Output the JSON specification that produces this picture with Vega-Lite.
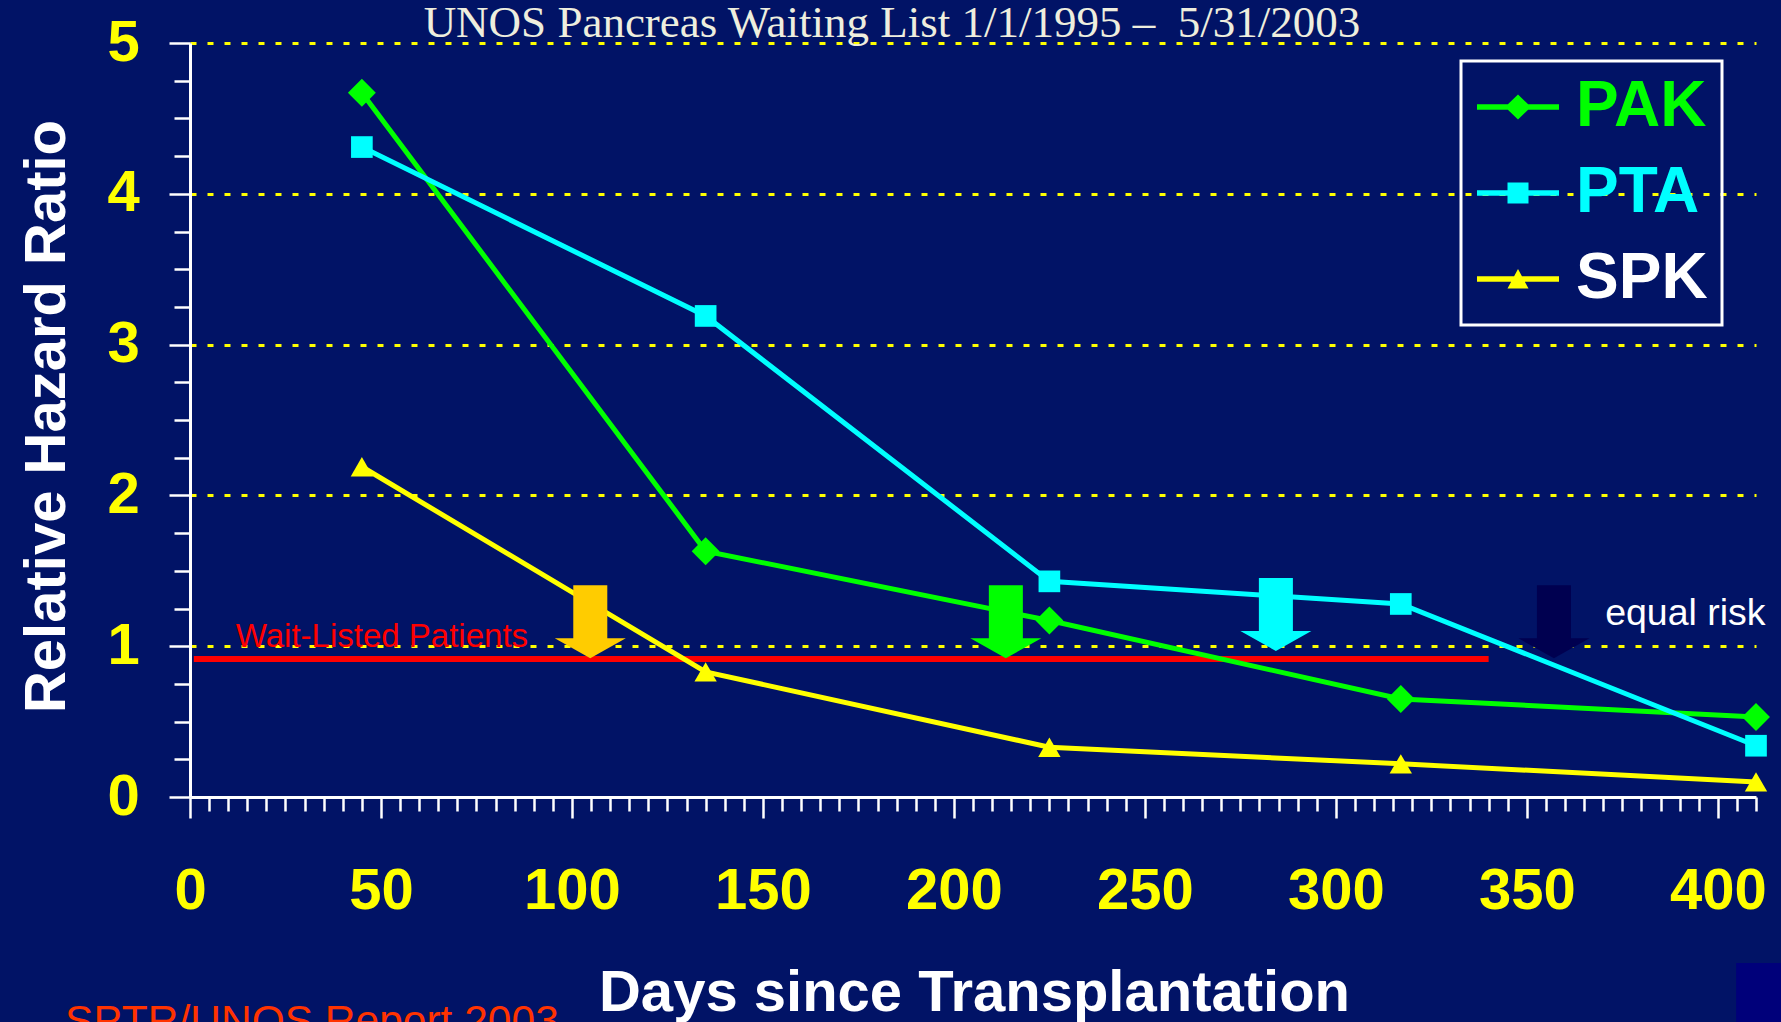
{
  "$schema": "https://vega.github.io/schema/vega-lite/v6.json",
  "width": 1566,
  "height": 754,
  "autosize": {"type": "none"},
  "padding": {"left": 190, "top": 43, "right": 25, "bottom": 225},
  "background": "#011366",
  "config": {
    "view": {"stroke": null},
    "legend": {"strokeWidth": 3}
  },
  "title": {
    "text": "UNOS Pancreas Waiting List 1/1/1995 – \u00a05/31/2003",
    "font": "Liberation Serif",
    "fontSize": 45,
    "fontWeight": "normal",
    "color": "#EEEEDE",
    "anchor": "middle",
    "frame": "group",
    "dx": -81,
    "baseline": "alphabetic",
    "offset": 0,
    "dy": 68
  },
  "datasets": {
    "series": [
      {"day": 45, "hr": 4.67, "series": "PAK"},
      {"day": 135, "hr": 1.63, "series": "PAK"},
      {"day": 225, "hr": 1.17, "series": "PAK"},
      {"day": 317, "hr": 0.65, "series": "PAK"},
      {"day": 410, "hr": 0.53, "series": "PAK"},
      {"day": 45, "hr": 4.31, "series": "PTA"},
      {"day": 135, "hr": 3.19, "series": "PTA"},
      {"day": 225, "hr": 1.43, "series": "PTA"},
      {"day": 317, "hr": 1.28, "series": "PTA"},
      {"day": 410, "hr": 0.34, "series": "PTA"},
      {"day": 45, "hr": 2.19, "series": "SPK"},
      {"day": 135, "hr": 0.83, "series": "SPK"},
      {"day": 225, "hr": 0.33, "series": "SPK"},
      {"day": 317, "hr": 0.22, "series": "SPK"},
      {"day": 410, "hr": 0.1, "series": "SPK"}
    ],
    "arrows": [
      {"day": 104.8, "hr": 0.92, "arrow": "SPK"},
      {"day": 213.6, "hr": 0.92, "arrow": "PAK"},
      {"day": 284.3, "hr": 0.968, "arrow": "PTA"},
      {"day": 357.1, "hr": 0.92, "arrow": "equal"}
    ]
  },
  "encoding": {
    "x": {
      "field": "day",
      "type": "quantitative",
      "scale": {"domain": [0, 410], "nice": false, "zero": false},
      "axis": {
        "title": "Days since Transplantation",
        "values": [0,5,10,15,20,25,30,35,40,45,50,55,60,65,70,75,80,85,90,95,100,105,110,115,120,125,130,135,140,145,150,155,160,165,170,175,180,185,190,195,200,205,210,215,220,225,230,235,240,245,250,255,260,265,270,275,280,285,290,295,300,305,310,315,320,325,330,335,340,345,350,355,360,365,370,375,380,385,390,395,400,405,410],
        "labelExpr": "datum.value % 50 === 0 ? '' + datum.value : ''",
        "labelOverlap": false,
        "labelFlush": false,
        "labelFont": "Liberation Sans",
        "labelFontSize": 58,
        "labelFontWeight": "bold",
        "labelColor": "#ffff00",
        "labelPadding": 44.7,
        "tickSize": {"condition": {"test": "datum.value % 50 === 0", "value": 21}, "value": 14},
        "tickColor": "#ffffff",
        "tickWidth": 2.5,
        "domainColor": "#ffffff",
        "domainWidth": 3,
        "grid": false,
        "titleFont": "Liberation Sans",
        "titleFontSize": 58,
        "titleFontWeight": "bold",
        "titleColor": "#ffffff",
        "titleBaseline": "alphabetic",
        "titleAlign": "center",
        "titleX": 784,
        "titleY": 213
      }
    },
    "y": {
      "field": "hr",
      "type": "quantitative",
      "scale": {"domain": [0, 5], "nice": false, "zero": false},
      "axis": {
        "title": "Relative Hazard Ratio",
        "values": [0,0.25,0.5,0.75,1,1.25,1.5,1.75,2,2.25,2.5,2.75,3,3.25,3.5,3.75,4,4.25,4.5,4.75,5],
        "labelExpr": "datum.value % 1 === 0 ? '' + datum.value : ''",
        "labelOverlap": false,
        "labelFlush": false,
        "labelFont": "Liberation Sans",
        "labelFontSize": 58,
        "labelFontWeight": "bold",
        "labelColor": "#ffff00",
        "labelPadding": 29.8,
        "tickSize": {"condition": {"test": "datum.value % 1 === 0", "value": 21}, "value": 16},
        "tickColor": "#ffffff",
        "tickWidth": 2.5,
        "domainColor": "#ffffff",
        "domainWidth": 3,
        "grid": true,
        "gridColor": "#ffff00",
        "gridDash": [6, 11],
        "gridWidth": 3,
        "gridOpacity": {"condition": {"test": "datum.value % 1 === 0 && datum.value > 0", "value": 1}, "value": 0},
        "titleFont": "Liberation Sans",
        "titleFontSize": 58,
        "titleFontWeight": "bold",
        "titleColor": "#ffffff",
        "titleAngle": -90,
        "titleBaseline": "alphabetic",
        "titleAlign": "center",
        "titleX": -126,
        "titleY": 373
      }
    }
  },
  "layer": [
    {
      "data": {"values": [{"day": 1, "day2": 340, "hr": 0.915}]},
      "mark": {"type": "rule", "color": "#ff0000", "strokeWidth": 6},
      "encoding": {"x2": {"field": "day2"}}
    },
    {
      "data": {"name": "series"},
      "transform": [{"filter": "datum.series === 'PAK'"}],
      "mark": {"type": "line", "strokeWidth": 5, "color": "#00ff00"}
    },
    {
      "data": {"name": "series"},
      "transform": [{"filter": "datum.series === 'PTA'"}],
      "mark": {"type": "line", "strokeWidth": 5, "color": "#00ffff"}
    },
    {
      "data": {"name": "series"},
      "transform": [{"filter": "datum.series === 'SPK'"}],
      "mark": {"type": "line", "strokeWidth": 5, "color": "#ffff00"}
    },
    {
      "data": {"name": "series"},
      "transform": [{"filter": "datum.series === 'PAK'"}],
      "mark": {"type": "point", "shape": "diamond", "filled": true, "size": 780, "color": "#00ff00", "opacity": 1}
    },
    {
      "data": {"name": "series"},
      "transform": [{"filter": "datum.series === 'PTA'"}],
      "mark": {"type": "point", "shape": "square", "filled": true, "size": 470, "color": "#00ffff", "opacity": 1}
    },
    {
      "data": {"name": "series"},
      "transform": [{"filter": "datum.series === 'SPK'"}],
      "mark": {"type": "point", "shape": "triangle-up", "filled": true, "size": 500, "color": "#ffff00", "opacity": 1}
    },
    {
      "data": {"name": "arrows"},
      "mark": {
        "type": "point",
        "shape": "M-0.466,-2L0.466,-2L0.466,-0.548L0.973,-0.548L0,0L-0.973,-0.548L-0.466,-0.548Z",
        "size": 5329,
        "filled": true,
        "opacity": 1
      },
      "encoding": {
        "color": {
          "field": "arrow",
          "type": "nominal",
          "scale": {"domain": ["SPK", "PAK", "PTA", "equal"], "range": ["#ffcc00", "#00ff00", "#00ffff", "#000050"]},
          "legend": null
        }
      }
    },
    {
      "data": {"values": [{"day": 12, "hr": 0.995, "note": "Wait-Listed Patients"}]},
      "mark": {"type": "text", "align": "left", "baseline": "alphabetic", "font": "Liberation Sans", "fontSize": 33, "color": "#ff0000"},
      "encoding": {"text": {"field": "note"}}
    },
    {
      "data": {"values": [{"day": 370.5, "hr": 1.14, "note": "equal risk"}]},
      "mark": {"type": "text", "align": "left", "baseline": "alphabetic", "font": "Liberation Sans", "fontSize": 37.5, "color": "#ffffff"},
      "encoding": {"text": {"field": "note"}}
    },
    {
      "data": {"values": [{"day": -32.7, "hr": -1.581, "note": "SPTR/UNOS Report 2003"}]},
      "mark": {"type": "text", "align": "left", "baseline": "alphabetic", "font": "Liberation Sans", "fontSize": 42.5, "color": "#ff3300"},
      "encoding": {"text": {"field": "note"}}
    },
    {
      "data": {"values": [{"day": 404.8, "day2": 420, "hr": -1.1, "hr2": -1.7}]},
      "mark": {"type": "rect", "color": "#00007a"},
      "encoding": {"x2": {"field": "day2"}, "y2": {"field": "hr2"}}
    },
    {
      "data": {"name": "series"},
      "mark": {"type": "point", "filled": true, "opacity": 0},
      "encoding": {
        "fill": {
          "field": "series",
          "type": "nominal",
          "scale": {"domain": ["PAK", "PTA", "SPK"], "range": ["#00ff00", "#00ffff", "#ffff00"]},
          "legend": {
            "title": null,
            "orient": "none",
            "legendX": 1271,
            "legendY": 18,
            "padding": 14,
            "strokeColor": "#ffffff",
            "symbolSize": 3600,
            "symbolOffset": 11,
            "labelOffset": 26,
            "labelFont": "Liberation Sans",
            "labelFontSize": 64,
            "labelFontWeight": "bold",
            "labelColor": {"expr": "datum.value === 'PAK' ? '#00ff00' : datum.value === 'PTA' ? '#00ffff' : '#ffffff'"},
            "labelLimit": 400,
            "rowPadding": 22,
            "symbolOpacity": 1,
            "symbolStrokeWidth": 0
          }
        },
        "shape": {
          "field": "series",
          "type": "nominal",
          "scale": {
            "domain": ["PAK", "PTA", "SPK"],
            "range": [
              "M-1.367,-0.093H1.367V0.093H-1.367ZM0,-0.417L0.433,0L0,0.417L-0.433,0Z",
              "M-1.367,-0.093H1.367V0.093H-1.367ZM-0.35,-0.35H0.35V0.35H-0.35Z",
              "M-1.367,-0.093H1.367V0.093H-1.367ZM0,-0.333L0.35,0.317H-0.35Z"
            ]
          },
          "legend": {
            "title": null,
            "orient": "none",
            "legendX": 1271,
            "legendY": 18,
            "padding": 14,
            "strokeColor": "#ffffff",
            "symbolSize": 3600,
            "symbolOffset": 11,
            "labelOffset": 26,
            "labelFont": "Liberation Sans",
            "labelFontSize": 64,
            "labelFontWeight": "bold",
            "labelColor": {"expr": "datum.value === 'PAK' ? '#00ff00' : datum.value === 'PTA' ? '#00ffff' : '#ffffff'"},
            "labelLimit": 400,
            "rowPadding": 22,
            "symbolOpacity": 1,
            "symbolStrokeWidth": 0
          }
        }
      }
    }
  ]
}
